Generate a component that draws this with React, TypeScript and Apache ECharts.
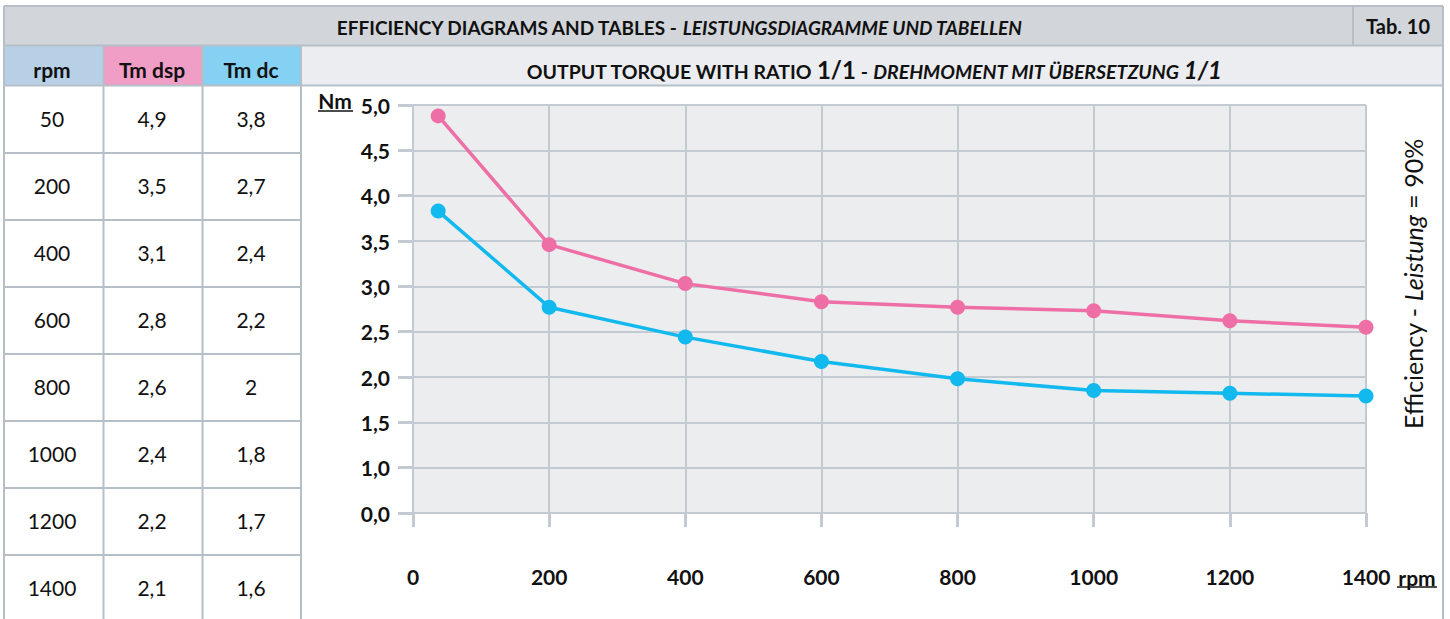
import React, { useEffect, useRef } from 'react';
import * as echarts from 'echarts';

// ---- data ----
const tableHeaders = ['rpm', 'Tm dsp', 'Tm dc'];
const tableRpm = [50, 200, 400, 600, 800, 1000, 1200, 1400];
const tableTmDsp = [4.9, 3.5, 3.1, 2.8, 2.6, 2.4, 2.2, 2.1];
const tableTmDc = [3.8, 2.7, 2.4, 2.2, 2, 1.8, 1.7, 1.6];

const curveRpm = [37, 200, 400, 600, 800, 1000, 1200, 1400];
const curveTmDsp = [4.88, 3.46, 3.03, 2.83, 2.77, 2.73, 2.62, 2.55];
const curveTmDc = [3.83, 2.77, 2.44, 2.17, 1.98, 1.85, 1.82, 1.79];

const FONT = 'Lato';
const LINE = '#b6bfc8';
const GRIDC = '#c3cad1';
const PINK = '#ee6fa6';
const BLUE = '#12b9ee';
const fmt = (v: number) => String(v).replace('.', ',');

function buildGraphics() {
  const g: any[] = [];
  const colX = [4, 103.5, 202.5, 301];
  const headColors = ['#b8d0e6', '#f19ec6', '#84d1f3'];
  // header bar
  g.push({ type: 'rect', silent: true, shape: { x: 4, y: 6, width: 1439, height: 39.5 }, style: { fill: '#d2d5da' } });
  // row 2 backgrounds
  for (let i = 0; i < 3; i++) {
    g.push({ type: 'rect', silent: true, shape: { x: colX[i], y: 45.5, width: colX[i + 1] - colX[i], height: 40 }, style: { fill: headColors[i] } });
  }
  g.push({ type: 'rect', silent: true, shape: { x: 301, y: 45.5, width: 1142, height: 40 }, style: { fill: '#ebedf0' } });

  const lines: number[][] = [
    [4, 6, 1443, 6],
    [4, 45.5, 1443, 45.5],
    [4, 85.5, 1443, 85.5],
    [4, 6, 4, 619],
    [1443, 6, 1443, 619],
    [1353, 6, 1353, 45.5],
    [103.5, 45.5, 103.5, 619],
    [202.5, 45.5, 202.5, 619],
    [301, 45.5, 301, 619],
  ];
  for (let k = 1; k < tableRpm.length; k++) {
    const y = 86 + 67 * k;
    lines.push([4, y, 301, y]);
  }
  lines.forEach((l) => {
    g.push({ type: 'line', silent: true, shape: { x1: l[0], y1: l[1], x2: l[2], y2: l[3] }, style: { stroke: LINE, lineWidth: 2 } });
  });

  // header title
  g.push({
    type: 'text', silent: true, x: 679, y: 27,
    style: {
      text: '{a|EFFICIENCY DIAGRAMS AND TABLES - }{b|LEISTUNGSDIAGRAMME UND TABELLEN}',
      align: 'center', verticalAlign: 'middle',
      rich: {
        a: { fontFamily: FONT, fontWeight: 'bold', fontSize: 19, fill: '#111' },
        b: { fontFamily: FONT, fontWeight: 'bold', fontStyle: 'italic', fontSize: 19, fill: '#111' },
      },
    },
  });
  g.push({
    type: 'text', silent: true, x: 1398, y: 26,
    style: { text: 'Tab. 10', align: 'center', verticalAlign: 'middle', fontFamily: FONT, fontWeight: 'bold', fontSize: 20, fill: '#111' },
  });
  // chart title
  g.push({
    type: 'text', silent: true, x: 874, y: 67,
    style: {
      text: '{a|OUTPUT TORQUE WITH RATIO }{c|1/1}{a| - }{b|DREHMOMENT MIT ÜBERSETZUNG }{d|1/1}',
      align: 'center', verticalAlign: 'middle',
      rich: {
        a: { fontFamily: FONT, fontWeight: 'bold', fontSize: 19.5, fill: '#111', verticalAlign: 'bottom', lineHeight: 28 },
        b: { fontFamily: FONT, fontWeight: 'bold', fontStyle: 'italic', fontSize: 19.5, fill: '#111', verticalAlign: 'bottom', lineHeight: 28 },
        c: { fontFamily: FONT, fontWeight: 'bold', fontSize: 24, fill: '#111', verticalAlign: 'bottom', lineHeight: 28 },
        d: { fontFamily: FONT, fontWeight: 'bold', fontStyle: 'italic', fontSize: 24, fill: '#111', verticalAlign: 'bottom', lineHeight: 28 },
      },
    },
  });
  // table headers
  const centers = [52, 152, 251];
  tableHeaders.forEach((h, i) => {
    g.push({ type: 'text', silent: true, x: centers[i], y: 69, style: { text: h, align: 'center', verticalAlign: 'middle', fontFamily: FONT, fontWeight: 'bold', fontSize: 21, fill: '#111' } });
  });
  // table body
  const cols = [tableRpm, tableTmDsp, tableTmDc];
  for (let r = 0; r < tableRpm.length; r++) {
    const y = 86 + 67 * r + 32;
    cols.forEach((c, i) => {
      g.push({ type: 'text', silent: true, x: centers[i], y, style: { text: fmt(c[r]), align: 'center', verticalAlign: 'middle', fontFamily: FONT, fontSize: 21, fill: '#111' } });
    });
  }
  // axis units
  g.push({ type: 'text', silent: true, x: 335, y: 100, style: { text: 'Nm', align: 'center', verticalAlign: 'middle', fontFamily: FONT, fontWeight: 'bold', fontSize: 21, fill: '#111' } });
  g.push({ type: 'line', silent: true, shape: { x1: 318, y1: 111, x2: 353, y2: 111 }, style: { stroke: '#111', lineWidth: 1.5 } });
  g.push({ type: 'text', silent: true, x: 1417, y: 577, style: { text: 'rpm', align: 'center', verticalAlign: 'middle', fontFamily: FONT, fontWeight: 'bold', fontSize: 21, fill: '#111' } });
  g.push({ type: 'line', silent: true, shape: { x1: 1397, y1: 587, x2: 1437, y2: 587 }, style: { stroke: '#111', lineWidth: 1.5 } });
  // rotated efficiency note
  g.push({
    type: 'text', silent: true, x: 1413, y: 284, rotation: Math.PI / 2,
    style: {
      text: '{a|Efficiency - }{b|Leistung}{a| = 90%}',
      align: 'center', verticalAlign: 'middle',
      rich: {
        a: { fontFamily: FONT, fontSize: 25, fill: '#111' },
        b: { fontFamily: FONT, fontSize: 25, fontStyle: 'italic', fill: '#111' },
      },
    },
  });
  return g;
}

export default function App() {
  const ref = useRef<HTMLDivElement>(null);
  useEffect(() => {
    if (!ref.current) return;
    const chart = echarts.init(ref.current, undefined, { renderer: 'svg' });
    const labelStyle = { fontFamily: FONT, fontWeight: 'bold' as const, fontSize: 21, color: '#111' };
    chart.setOption({
      animation: false,
      backgroundColor: '#ffffff',
      grid: { left: 413, top: 105, width: 953, height: 408, show: true, backgroundColor: '#ecedef', borderWidth: 0, containLabel: false },
      xAxis: {
        type: 'value', min: 0, max: 1400, interval: 200,
        axisLine: { show: true, lineStyle: { color: GRIDC, width: 2 } },
        axisTick: { show: true, inside: false, length: 14, lineStyle: { color: GRIDC, width: 3 } },
        splitLine: { show: true, lineStyle: { color: GRIDC, width: 2 } },
        axisLabel: { ...labelStyle, margin: 53, formatter: (v: number) => String(v) },
      },
      yAxis: {
        type: 'value', min: 0.5, max: 5, interval: 0.5,
        axisLine: { show: false },
        axisTick: { show: true, inside: false, length: 15, lineStyle: { color: GRIDC, width: 3 } },
        splitLine: { show: true, lineStyle: { color: GRIDC, width: 2 } },
        axisLabel: {
          ...labelStyle, margin: 23,
          formatter: (v: number) => (v < 0.75 ? '0,0' : v.toFixed(1).replace('.', ',')),
        },
      },
      graphic: { elements: buildGraphics() },
      series: [
        {
          name: 'Tm dsp', type: 'line', data: curveRpm.map((x, i) => [x, curveTmDsp[i]]),
          symbol: 'circle', symbolSize: 15, lineStyle: { color: PINK, width: 3.5 }, itemStyle: { color: PINK }, z: 5,
        },
        {
          name: 'Tm dc', type: 'line', data: curveRpm.map((x, i) => [x, curveTmDc[i]]),
          symbol: 'circle', symbolSize: 15, lineStyle: { color: BLUE, width: 3.5 }, itemStyle: { color: BLUE }, z: 5,
        },
      ],
    });
    return () => chart.dispose();
  }, []);
  return <div ref={ref} style={{ position: 'fixed', left: 0, top: 0, width: 1450, height: 619 }} />;
}
